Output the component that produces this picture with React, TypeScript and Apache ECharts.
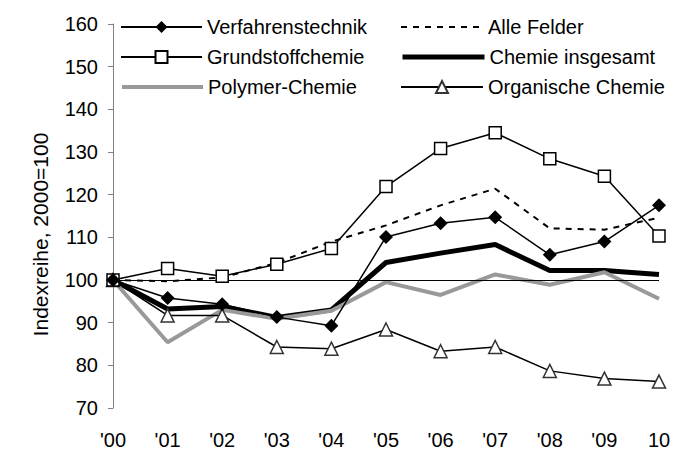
import React, { useEffect, useRef } from "react";
import * as echarts from "echarts";

const years = ["'00", "'01", "'02", "'03", "'04", "'05", "'06", "'07", "'08", "'09", "10"];
const verfahrenstechnik = [100, 95.8, 94.3, 91.3, 89.3, 110.1, 113.3, 114.7, 105.9, 109.0, 117.5];
const alleFelder = [100, 99.7, 100.6, 104.0, 109.0, 112.8, 117.5, 121.4, 112.1, 111.8, 114.6];
const grundstoffchemie = [100, 102.7, 100.9, 103.7, 107.4, 121.9, 130.8, 134.5, 128.4, 124.3, 110.3];
const chemieInsgesamt = [100, 93.2, 93.8, 91.2, 93.0, 104.1, 106.3, 108.3, 102.2, 102.2, 101.3];
const polymerChemie = [100, 85.4, 93.0, 90.9, 92.8, 99.5, 96.5, 101.3, 98.9, 101.8, 95.6];
const organischeChemie = [100, 91.7, 91.7, 84.3, 83.9, 88.4, 83.3, 84.3, 78.7, 76.9, 76.2];
const yTicks = { min: 70, max: 160, interval: 10 };
const yAxisName = "Indexreihe, 2000=100";

const FONT = "'Liberation Sans', Arial, sans-serif";

export default function App() {
  const ref = useRef<HTMLDivElement>(null);
  useEffect(() => {
    document.body.style.margin = "0";
    const chart = echarts.init(ref.current!, undefined, { renderer: "svg" });
    const legendText = { fontSize: 20, fontFamily: FONT, color: "#000" };
    const mkLegend = (name: string, left: number, top: number, width: number, extra: any = {}) => ({
      data: [{ name, ...extra }],
      left,
      top,
      padding: 0,
      itemGap: 0,
      itemWidth: width,
      itemHeight: 15,
      textStyle: legendText,
      selectedMode: false,
    });
    chart.setOption({
      animation: false,
      backgroundColor: "#fff",
      legend: [
        mkLegend("Verfahrenstechnik", 120, 17, 81),
        mkLegend("Grundstoffchemie", 120, 47, 81),
        mkLegend("Polymer-Chemie", 120, 77, 81, {
          itemStyle: { opacity: 0 },
          lineStyle: { color: "#999999", width: 4 },
        }),
        mkLegend("Alle Felder", 400, 17, 82, {
          itemStyle: { opacity: 0 },
          lineStyle: { color: "#000", width: 2, type: [6, 6] },
        }),
        mkLegend("Chemie insgesamt", 400, 47, 82, {
          itemStyle: { opacity: 0 },
          lineStyle: { color: "#000", width: 5 },
        }),
        mkLegend("Organische Chemie", 400, 77, 82),
      ],
      grid: { left: 113, right: 17, top: 24, bottom: 41, containLabel: false },
      xAxis: {
        type: "category",
        data: years,
        boundaryGap: false,
        axisLine: { show: false },
        axisTick: { show: false },
        axisLabel: { fontSize: 20, fontFamily: FONT, color: "#000", margin: 22 },
        splitLine: { show: false },
      },
      yAxis: {
        type: "value",
        min: yTicks.min,
        max: yTicks.max,
        interval: yTicks.interval,
        name: yAxisName,
        nameLocation: "middle",
        nameRotate: 90,
        nameGap: 62,
        nameTextStyle: { fontSize: 21, fontFamily: FONT, color: "#000", padding: [0, 37, 0, 0] },
        axisLine: { show: true, lineStyle: { color: "#808080", width: 1 } },
        axisTick: { show: true, length: 5, inside: false, lineStyle: { color: "#808080" } },
        axisLabel: { fontSize: 20, fontFamily: FONT, color: "#000", margin: 15 },
        splitLine: { show: false },
      },
      series: [
        {
          name: "Chemie insgesamt",
          type: "line",
          data: chemieInsgesamt,
          symbol: "none",
          lineStyle: { color: "#000", width: 5 },
          itemStyle: { color: "#000" },
          z: 2,
          markLine: {
            silent: true,
            symbol: "none",
            label: { show: false },
            lineStyle: { color: "#000", width: 1, type: "solid" },
            data: [{ yAxis: 100 }],
          },
        },
        {
          name: "Polymer-Chemie",
          type: "line",
          data: polymerChemie,
          symbol: "none",
          lineStyle: { color: "#999999", width: 4 },
          itemStyle: { color: "#999999" },
          z: 3,
        },
        {
          name: "Alle Felder",
          type: "line",
          data: alleFelder,
          symbol: "none",
          lineStyle: { color: "#000", width: 2, type: [6, 6] },
          itemStyle: { color: "#000" },
          z: 3,
        },
        {
          name: "Organische Chemie",
          type: "line",
          data: organischeChemie,
          symbol: "triangle",
          symbolSize: 13,
          lineStyle: { color: "#000", width: 1.5 },
          itemStyle: { color: "#fff", borderColor: "#333", borderWidth: 1.5 },
          z: 4,
        },
        {
          name: "Grundstoffchemie",
          type: "line",
          data: grundstoffchemie,
          symbol: "rect",
          symbolSize: 12,
          lineStyle: { color: "#000", width: 1.5 },
          itemStyle: { color: "#fff", borderColor: "#000", borderWidth: 1.5 },
          z: 5,
        },
        {
          name: "Verfahrenstechnik",
          type: "line",
          data: verfahrenstechnik,
          symbol: "diamond",
          symbolSize: 14,
          lineStyle: { color: "#000", width: 1.5 },
          itemStyle: { color: "#000" },
          z: 6,
        },
      ],
    });
    return () => chart.dispose();
  }, []);
  return <div ref={ref} style={{ width: 676, height: 450 }} />;
}
